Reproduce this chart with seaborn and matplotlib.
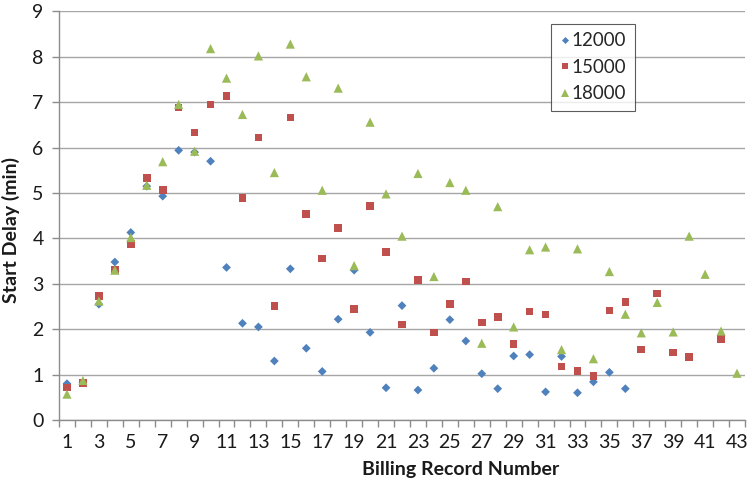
import numpy as np
import pandas as pd
import matplotlib
matplotlib.use("Agg")
import matplotlib.pyplot as plt
import seaborn as sns
from matplotlib.ticker import FixedLocator, NullFormatter

# Start delay (minutes) per billing record for three job sizes
records = list(range(1, 44))

delay_12000 = [0.80, 0.82, 2.55, 3.48, 4.13, 5.15, 4.93, 5.94, 5.90, 5.70,
               3.36, 2.13, 2.05, 1.30, 3.33, 1.58, 1.07, 2.22, 3.30, 1.93,
               0.71, 2.52, 0.66, 1.14, 2.21, 1.74, 1.02, 0.69, 1.41, 1.44,
               0.62, 1.40, 0.60, 0.84, 1.05, 0.69]

delay_15000 = [0.72, 0.81, 2.73, 3.30, 3.88, 5.33, 5.06, 6.88, 6.33, 6.95,
               7.13, 4.89, 6.22, 2.51, 6.66, 4.54, 3.56, 4.23, 2.45, 4.71,
               3.70, 2.10, 3.08, 1.93, 2.56, 3.05, 2.15, 2.27, 1.68, 2.39,
               2.32, 1.18, 1.08, 0.97, 2.41, 2.60, 1.55, 2.79, 1.49, 1.39,
               np.nan, 1.79]

delay_18000 = [0.57, 0.87, 2.62, 3.30, 4.02, 5.17, 5.69, 6.95, 5.92, 8.18,
               7.53, 6.73, 8.02, 5.45, 8.28, 7.56, 5.06, 7.31, 3.40, 6.56,
               4.98, 4.05, 5.43, 3.16, 5.23, 5.06, 1.69, 4.70, 2.05, 3.75,
               3.81, 1.55, 3.77, 1.35, 3.27, 2.33, 1.92, 2.59, 1.94, 4.05,
               3.21, 1.96, 1.03]

series_names = ["12000", "15000", "18000"]
series_values = [delay_12000, delay_15000, delay_18000]

frames = []
for name, vals in zip(series_names, series_values):
    frames.append(pd.DataFrame({
        "record": records[:len(vals)],
        "delay": vals,
        "series": name,
    }))
df = pd.concat(frames, ignore_index=True).dropna()

palette = {"12000": "#4F81BD", "15000": "#C0504D", "18000": "#9BBB59"}
markers = {"12000": "D", "15000": "s", "18000": "^"}
marker_area = {"12000": 20, "15000": 30, "18000": 44}

sns.set_theme(style="white")
plt.rcParams["font.family"] = ["Lato", "DejaVu Sans"]

fig = plt.figure(figsize=(7.48, 4.87), dpi=100)
ax = fig.add_axes([59 / 748, 1 - 420 / 487, 686 / 748, 408.6 / 487])

sns.scatterplot(data=df, x="record", y="delay", hue="series", style="series",
                size="series", sizes=marker_area, size_order=series_names,
                palette=palette, markers=markers, hue_order=series_names,
                style_order=series_names, linewidth=0, ax=ax, zorder=3)

ax.set_xlim(0.5, 43.5)
ax.set_ylim(0, 9)
ax.set_yticks(range(0, 10))
ax.set_xticks(range(1, 44, 2))
ax.xaxis.set_minor_locator(FixedLocator(np.arange(0.5, 44, 1.0)))
ax.xaxis.set_minor_formatter(NullFormatter())

ax.grid(axis="y", color="#A6A6A6", linewidth=1.0, zorder=0)
ax.grid(axis="x", visible=False)
ax.set_axisbelow(True)

for side in ("top", "right"):
    ax.spines[side].set_visible(False)
for side in ("left", "bottom"):
    ax.spines[side].set_color("#8C8C8C")
    ax.spines[side].set_linewidth(1.0)

ax.tick_params(axis="x", which="major", length=0, pad=10, labelsize=14,
               labelcolor="#1a1a1a")
ax.tick_params(axis="x", which="minor", length=5, width=1, color="#8C8C8C",
               direction="out", bottom=True)
ax.tick_params(axis="y", which="major", length=5, width=1, color="#8C8C8C",
               direction="out", left=True, pad=6, labelsize=14,
               labelcolor="#1a1a1a")

ax.set_xlabel("Billing Record Number", fontsize=14, fontweight="bold",
              color="#1a1a1a")
ax.set_ylabel("Start Delay (min)", fontsize=14, fontweight="bold",
              color="#1a1a1a")
ax.xaxis.set_label_coords(402 / 686, -41 / 408.6)
ax.yaxis.set_label_coords(-39 / 686, (420 - 230) / 408.6)

leg = ax.legend(loc="upper left", bbox_to_anchor=(551 / 748, 1 - 24 / 487),
                bbox_transform=fig.transFigure, borderaxespad=0,
                frameon=True, fancybox=False, fontsize=13.5, markerscale=0.8,
                handletextpad=0.05, handlelength=0.6, labelspacing=0.5,
                borderpad=0.45)
leg.get_frame().set_edgecolor("#333333")
leg.get_frame().set_linewidth(0.8)

fig.savefig("out.png", dpi=100)
